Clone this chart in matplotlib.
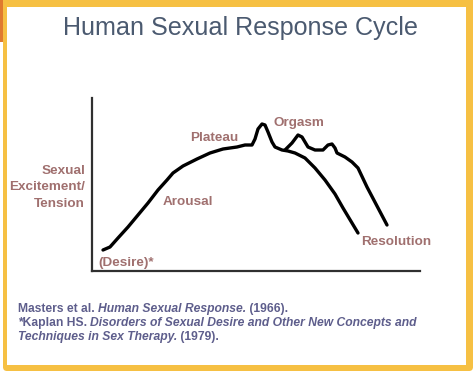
import numpy as np
import matplotlib.pyplot as plt
from matplotlib.patches import Rectangle, FancyBboxPatch

plt.rcParams['font.family'] = ['Liberation Sans', 'DejaVu Sans']

# 示意曲线数据（横轴：时间，纵轴：兴奋程度，任意单位）
t_main = [11, 18, 26, 36, 46, 56, 66, 75, 81, 91, 105, 118, 131, 145, 153,
          160, 163, 166, 170, 173, 176, 180, 183, 190, 196, 203, 213, 223,
          233, 243, 251, 266]
y_main = [21, 24, 33, 44, 56, 68, 81, 91, 98, 105, 112, 118, 122, 124, 126,
          126, 132, 142, 147, 146, 139, 129, 124, 121, 120, 118, 113, 103,
          91, 77, 63, 38]
t_multi = [193, 200, 206, 210, 216, 223, 231, 236, 240, 243, 245, 253, 260,
           266, 275, 285, 295]
y_multi = [121, 128, 136, 134, 124, 121, 121, 126, 127, 123, 118, 114, 109,
           103, 84, 65, 46]

phase_labels = ['Plateau', 'Arousal', '(Desire)*', 'Orgasm', 'Resolution']
ylabel_lines = ['Sexual', 'Excitement/', 'Tension']

title = 'Human Sexual Response Cycle'
refs = [
    [('Masters et al. ', 'normal'), ('Human Sexual Response.', 'italic'),
     (' (1966).', 'normal')],
    [('*Kaplan HS. ', 'normal'),
     ('Disorders of Sexual Desire and Other New Concepts and', 'italic')],
    [('Techniques in Sex Therapy.', 'italic'), (' (1979).', 'normal')],
]

W, H = 474, 384
label_color = '#A0706F'
ref_color = '#5E5E8C'

fig = plt.figure(figsize=(W / 100, H / 100), dpi=100)
fig.patch.set_facecolor('white')

# 背景层（像素坐标）
bg = fig.add_axes([0, 0, 1, 1])
bg.set_xlim(0, W)
bg.set_ylim(H, 0)
bg.axis('off')
bg.add_patch(Rectangle((0, 0), 3, 42, color='#E07A2E', lw=0))
bg.add_patch(FancyBboxPatch((3, -4), 470, 375, boxstyle='round,pad=0,rounding_size=4',
                            color='#F6C043', lw=0))
bg.add_patch(Rectangle((7.5, 6.5), 459, 358.5, color='white', lw=0))

bg.text(240, 28, title, ha='center', va='center', fontsize=18.1, color='#4B5A70')

# 主图
x0, x1, yt, yb = 92, 420, 98, 271
ax = fig.add_axes([x0 / W, 1 - yb / H, (x1 - x0) / W, (yb - yt) / H])
ax.set_xlim(0, x1 - x0)
ax.set_ylim(0, yb - yt)
ax.patch.set_alpha(0)
for s in ['top', 'right']:
    ax.spines[s].set_visible(False)
for s in ['left', 'bottom']:
    ax.spines[s].set_linewidth(1.6)
    ax.spines[s].set_color('#303030')
ax.set_xticks([])
ax.set_yticks([])

ax.plot(t_main, y_main, color='black', lw=2.4, solid_joinstyle='round',
        solid_capstyle='round')
ax.plot(t_multi, y_multi, color='black', lw=2.4, solid_joinstyle='round',
        solid_capstyle='round')

# 阶段标签
pos = [(214, 138), (188, 202), (98, 263), (299, 123), (396, 242)]
ha = ['center', 'center', 'left', 'center', 'center']
for lab, (px, py), h in zip(phase_labels, pos, ha):
    bg.text(px, py, lab, ha=h, va='center', fontsize=9.7, fontweight='bold',
            color=label_color)

for i, s in enumerate(ylabel_lines):
    bg.text(85, 171 + i * 16.5, s, ha='right', va='center', fontsize=9.7,
            fontweight='bold', color=label_color)

# 参考文献
r = fig.canvas.get_renderer()
for i, runs in enumerate(refs):
    x = 18
    y = 309 + i * 14
    for s, style in runs:
        t = bg.text(x, y, s, ha='left', va='center', fontsize=8.75,
                    fontweight='bold', fontstyle=style, color=ref_color)
        x += t.get_window_extent(renderer=r).width

fig.savefig('out.png', dpi=100)
